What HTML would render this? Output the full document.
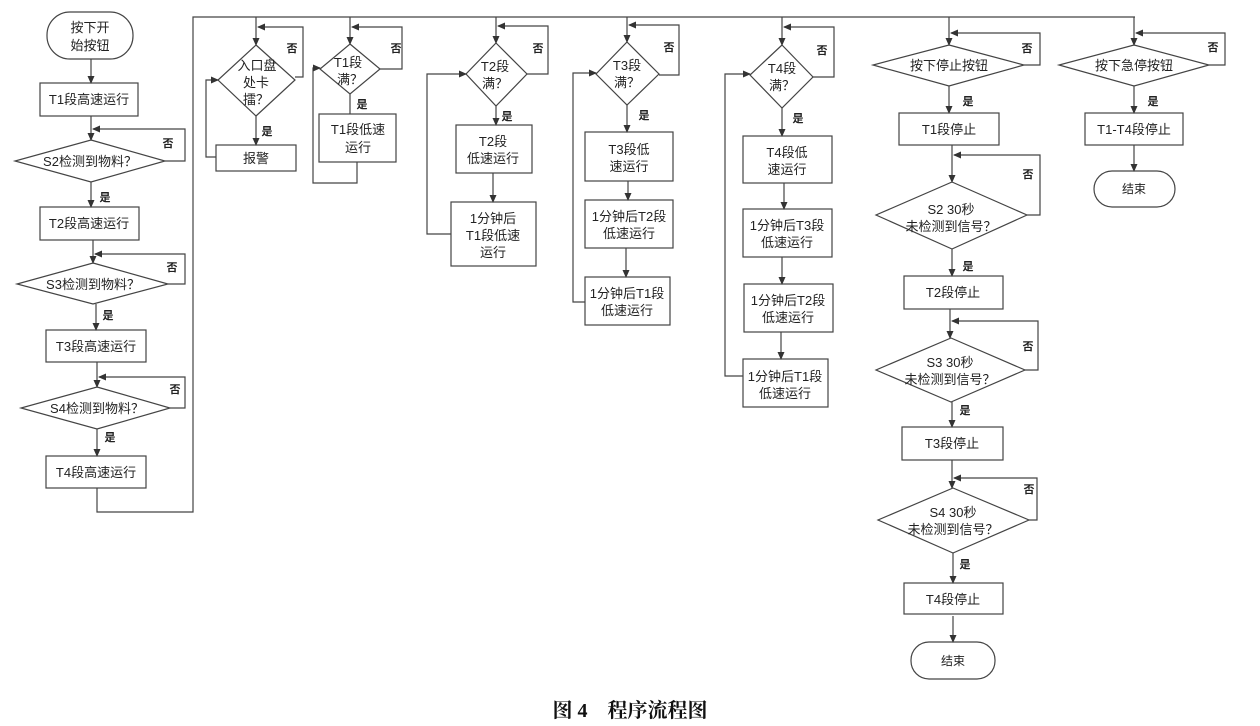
<!DOCTYPE html>
<html><head><meta charset="utf-8"><style>
html,body{margin:0;padding:0;background:#fff;}
svg{display:block;}
text{font-family:"Liberation Sans","Noto Sans CJK SC",sans-serif;font-size:13px;fill:#222;text-anchor:middle;}
.s{font-size:11px;font-weight:bold;}
.n{font-size:12px;}
</style></head><body>
<svg width="1260" height="726" viewBox="0 0 1260 726" xmlns="http://www.w3.org/2000/svg">
<defs><marker id="a" markerWidth="8" markerHeight="8" refX="7" refY="4" orient="auto" markerUnits="userSpaceOnUse"><path d="M0,0.5 L8,4 L0,7.5z" fill="#333"/></marker></defs>
<g fill="none" stroke="#444" stroke-width="1.2">
<!-- column 1 -->
<rect x="47" y="12" width="86" height="47" rx="23"/>
<line x1="91" y1="59" x2="91" y2="83" marker-end="url(#a)"/>
<rect x="40" y="83" width="98" height="33"/>
<line x1="91" y1="116" x2="91" y2="140" marker-end="url(#a)"/>
<polygon points="91,140 165,161 91,182 15,161"/>
<polyline points="165,161 185,161 185,129 93,129" marker-end="url(#a)"/>
<line x1="91" y1="182" x2="91" y2="207" marker-end="url(#a)"/>
<rect x="40" y="207" width="99" height="33"/>
<line x1="93" y1="240" x2="93" y2="263" marker-end="url(#a)"/>
<polygon points="93,263 168,284 93,304 17,284"/>
<polyline points="168,284 185,284 185,254 95,254" marker-end="url(#a)"/>
<line x1="96" y1="304" x2="96" y2="330" marker-end="url(#a)"/>
<rect x="46" y="330" width="100" height="32"/>
<line x1="97" y1="362" x2="97" y2="387" marker-end="url(#a)"/>
<polygon points="97,387 170,408 97,429 21,408"/>
<polyline points="170,408 185,408 185,377 99,377" marker-end="url(#a)"/>
<line x1="97" y1="429" x2="97" y2="456" marker-end="url(#a)"/>
<rect x="46" y="456" width="100" height="32"/>
<polyline points="97,488 97,512 193,512 193,17 1135,17"/>
<!-- 入口盘 -->
<line x1="256" y1="17" x2="256" y2="45" marker-end="url(#a)"/>
<polygon points="256,45 295,80 256,116 218,80"/>
<polyline points="295,77 303,77 303,27 258,27" marker-end="url(#a)"/>
<line x1="256" y1="116" x2="256" y2="145" marker-end="url(#a)"/>
<rect x="216" y="145" width="80" height="26"/>
<polyline points="216,157 206,157 206,80 218,80" marker-end="url(#a)"/>
<!-- T1 -->
<line x1="350" y1="17" x2="350" y2="44" marker-end="url(#a)"/>
<polygon points="350,44 380,69 350,94 320,69"/>
<polyline points="380,69 402,69 402,27 352,27" marker-end="url(#a)"/>
<line x1="350" y1="94" x2="350" y2="114" />
<rect x="319" y="114" width="77" height="48"/>
<polyline points="357,162 357,183 313,183 313,68 320,68" marker-end="url(#a)"/>
<!-- T2 -->
<line x1="496" y1="17" x2="496" y2="43" marker-end="url(#a)"/>
<polygon points="496,43 527,74 496,106 466,74"/>
<polyline points="527,74 548,74 548,26 498,26" marker-end="url(#a)"/>
<line x1="496" y1="106" x2="496" y2="125" marker-end="url(#a)"/>
<rect x="456" y="125" width="76" height="48"/>
<line x1="493" y1="173" x2="493" y2="202" marker-end="url(#a)"/>
<rect x="451" y="202" width="85" height="64"/>
<polyline points="451,234 427,234 427,74 466,74" marker-end="url(#a)"/>
<!-- T3 -->
<line x1="627" y1="17" x2="627" y2="42" marker-end="url(#a)"/>
<polygon points="627,42 659,74 627,105 596,74"/>
<polyline points="659,75 679,75 679,25 629,25" marker-end="url(#a)"/>
<line x1="627" y1="105" x2="627" y2="132" marker-end="url(#a)"/>
<rect x="585" y="132" width="88" height="49"/>
<line x1="628" y1="181" x2="628" y2="200" marker-end="url(#a)"/>
<rect x="585" y="200" width="88" height="48"/>
<line x1="626" y1="248" x2="626" y2="277" marker-end="url(#a)"/>
<rect x="585" y="277" width="85" height="48"/>
<polyline points="585,302 573,302 573,73 596,73" marker-end="url(#a)"/>
<!-- T4 -->
<line x1="782" y1="17" x2="782" y2="45" marker-end="url(#a)"/>
<polygon points="782,45 813,77 782,108 750,75"/>
<polyline points="813,77 834,77 834,27 784,27" marker-end="url(#a)"/>
<line x1="782" y1="108" x2="782" y2="136" marker-end="url(#a)"/>
<rect x="743" y="136" width="89" height="47"/>
<line x1="784" y1="183" x2="784" y2="209" marker-end="url(#a)"/>
<rect x="743" y="209" width="89" height="48"/>
<line x1="782" y1="257" x2="782" y2="284" marker-end="url(#a)"/>
<rect x="744" y="284" width="89" height="48"/>
<line x1="781" y1="332" x2="781" y2="359" marker-end="url(#a)"/>
<rect x="743" y="359" width="85" height="48"/>
<polyline points="743,376 725,376 725,74 750,74" marker-end="url(#a)"/>
<!-- stop -->
<line x1="949" y1="17" x2="949" y2="45" marker-end="url(#a)"/>
<polygon points="949,45 1024,65 949,86 873,65"/>
<polyline points="1024,65 1040,65 1040,33 951,33" marker-end="url(#a)"/>
<line x1="949" y1="86" x2="949" y2="113" marker-end="url(#a)"/>
<rect x="899" y="113" width="100" height="32"/>
<line x1="952" y1="145" x2="952" y2="182" marker-end="url(#a)"/>
<polygon points="952,182 1027,215 952,249 876,215"/>
<polyline points="1027,215 1040,215 1040,155 954,155" marker-end="url(#a)"/>
<line x1="952" y1="249" x2="952" y2="276" marker-end="url(#a)"/>
<rect x="904" y="276" width="99" height="33"/>
<line x1="950" y1="309" x2="950" y2="338" marker-end="url(#a)"/>
<polygon points="951,338 1025,370 951,402 876,370"/>
<polyline points="1025,370 1038,370 1038,321 952,321" marker-end="url(#a)"/>
<line x1="952" y1="402" x2="952" y2="427" marker-end="url(#a)"/>
<rect x="902" y="427" width="101" height="33"/>
<line x1="952" y1="460" x2="952" y2="488" marker-end="url(#a)"/>
<polygon points="953,488 1029,520 953,553 878,520"/>
<polyline points="1029,520 1037,520 1037,478 954,478" marker-end="url(#a)"/>
<line x1="953" y1="553" x2="953" y2="583" marker-end="url(#a)"/>
<rect x="904" y="583" width="99" height="31"/>
<line x1="953" y1="616" x2="953" y2="642" marker-end="url(#a)"/>
<rect x="911" y="642" width="84" height="37" rx="18"/>
<!-- e-stop -->
<line x1="1134" y1="17" x2="1134" y2="45" marker-end="url(#a)"/>
<polygon points="1134,45 1209,65 1134,86 1059,65"/>
<polyline points="1209,65 1225,65 1225,33 1136,33" marker-end="url(#a)"/>
<line x1="1134" y1="86" x2="1134" y2="113" marker-end="url(#a)"/>
<rect x="1085" y="113" width="98" height="32"/>
<line x1="1134" y1="145" x2="1134" y2="171" marker-end="url(#a)"/>
<rect x="1094" y="171" width="81" height="36" rx="18"/>
</g>
<g>
<text x="90" y="32">按下开</text><text x="90" y="50">始按钮</text>
<text x="89" y="104">T1段高速运行</text>
<text x="90" y="166">S2检测到物料？</text>
<text x="89" y="228">T2段高速运行</text>
<text x="93" y="289">S3检测到物料？</text>
<text x="96" y="351">T3段高速运行</text>
<text x="97" y="413">S4检测到物料？</text>
<text x="96" y="477">T4段高速运行</text>
<text class="s" x="168" y="147">否</text><text class="s" x="105" y="201">是</text>
<text class="s" x="172" y="271">否</text><text class="s" x="108" y="319">是</text>
<text class="s" x="175" y="393">否</text><text class="s" x="110" y="441">是</text>

<text x="257" y="70">入口盘</text><text x="256" y="87">处卡</text><text x="256" y="104">擂？</text>
<text class="s" x="292" y="52">否</text><text class="s" x="267" y="135">是</text>
<text x="256" y="163">报警</text>
<text x="348" y="67">T1段</text><text x="350" y="84">满？</text>
<text class="s" x="396" y="52">否</text><text class="s" x="362" y="108">是</text>
<text x="358" y="134">T1段低速</text><text x="358" y="152">运行</text>

<text x="495" y="71">T2段</text><text x="495" y="88">满？</text>
<text class="s" x="538" y="52">否</text><text class="s" x="507" y="120">是</text>
<text x="493" y="146">T2段</text><text x="493" y="163">低速运行</text>
<text x="493" y="223">1分钟后</text><text x="493" y="240">T1段低速</text><text x="493" y="257">运行</text>

<text x="627" y="70">T3段</text><text x="627" y="87">满？</text>
<text class="s" x="669" y="51">否</text><text class="s" x="644" y="119">是</text>
<text x="629" y="154">T3段低</text><text x="629" y="171">速运行</text>
<text x="629" y="221">1分钟后T2段</text><text x="629" y="238">低速运行</text>
<text x="627" y="298">1分钟后T1段</text><text x="627" y="315">低速运行</text>

<text x="782" y="73">T4段</text><text x="782" y="90">满？</text>
<text class="s" x="822" y="54">否</text><text class="s" x="798" y="122">是</text>
<text x="787" y="157">T4段低</text><text x="787" y="174">速运行</text>
<text x="787" y="230">1分钟后T3段</text><text x="787" y="247">低速运行</text>
<text x="788" y="305">1分钟后T2段</text><text x="788" y="322">低速运行</text>
<text x="785" y="381">1分钟后T1段</text><text x="785" y="398">低速运行</text>

<text x="949" y="70">按下停止按钮</text>
<text class="s" x="1027" y="52">否</text><text class="s" x="968" y="105">是</text>
<text x="949" y="134">T1段停止</text>
<text class="s" x="1028" y="178">否</text>
<text x="951" y="214">S2 30秒</text><text x="951" y="231">未检测到信号？</text>
<text class="s" x="968" y="270">是</text>
<text x="953" y="297">T2段停止</text>
<text class="s" x="1028" y="350">否</text>
<text x="950" y="367">S3 30秒</text><text x="950" y="384">未检测到信号？</text>
<text class="s" x="965" y="414">是</text>
<text x="952" y="448">T3段停止</text>
<text class="s" x="1029" y="493">否</text>
<text x="953" y="517">S4 30秒</text><text x="953" y="534">未检测到信号？</text>
<text class="s" x="965" y="568">是</text>
<text x="953" y="604">T4段停止</text>
<text class="n" x="953" y="665">结束</text>

<text x="1134" y="70">按下急停按钮</text>
<text class="s" x="1213" y="51">否</text><text class="s" x="1153" y="105">是</text>
<text x="1134" y="134">T1-T4段停止</text>
<text class="n" x="1134" y="193">结束</text>

<text x="630" y="717" style="font-family:'Liberation Serif','Noto Serif CJK SC',serif;font-size:20px;font-weight:bold;fill:#111">图 4　程序流程图</text>
</g>
</svg>
</body></html>
